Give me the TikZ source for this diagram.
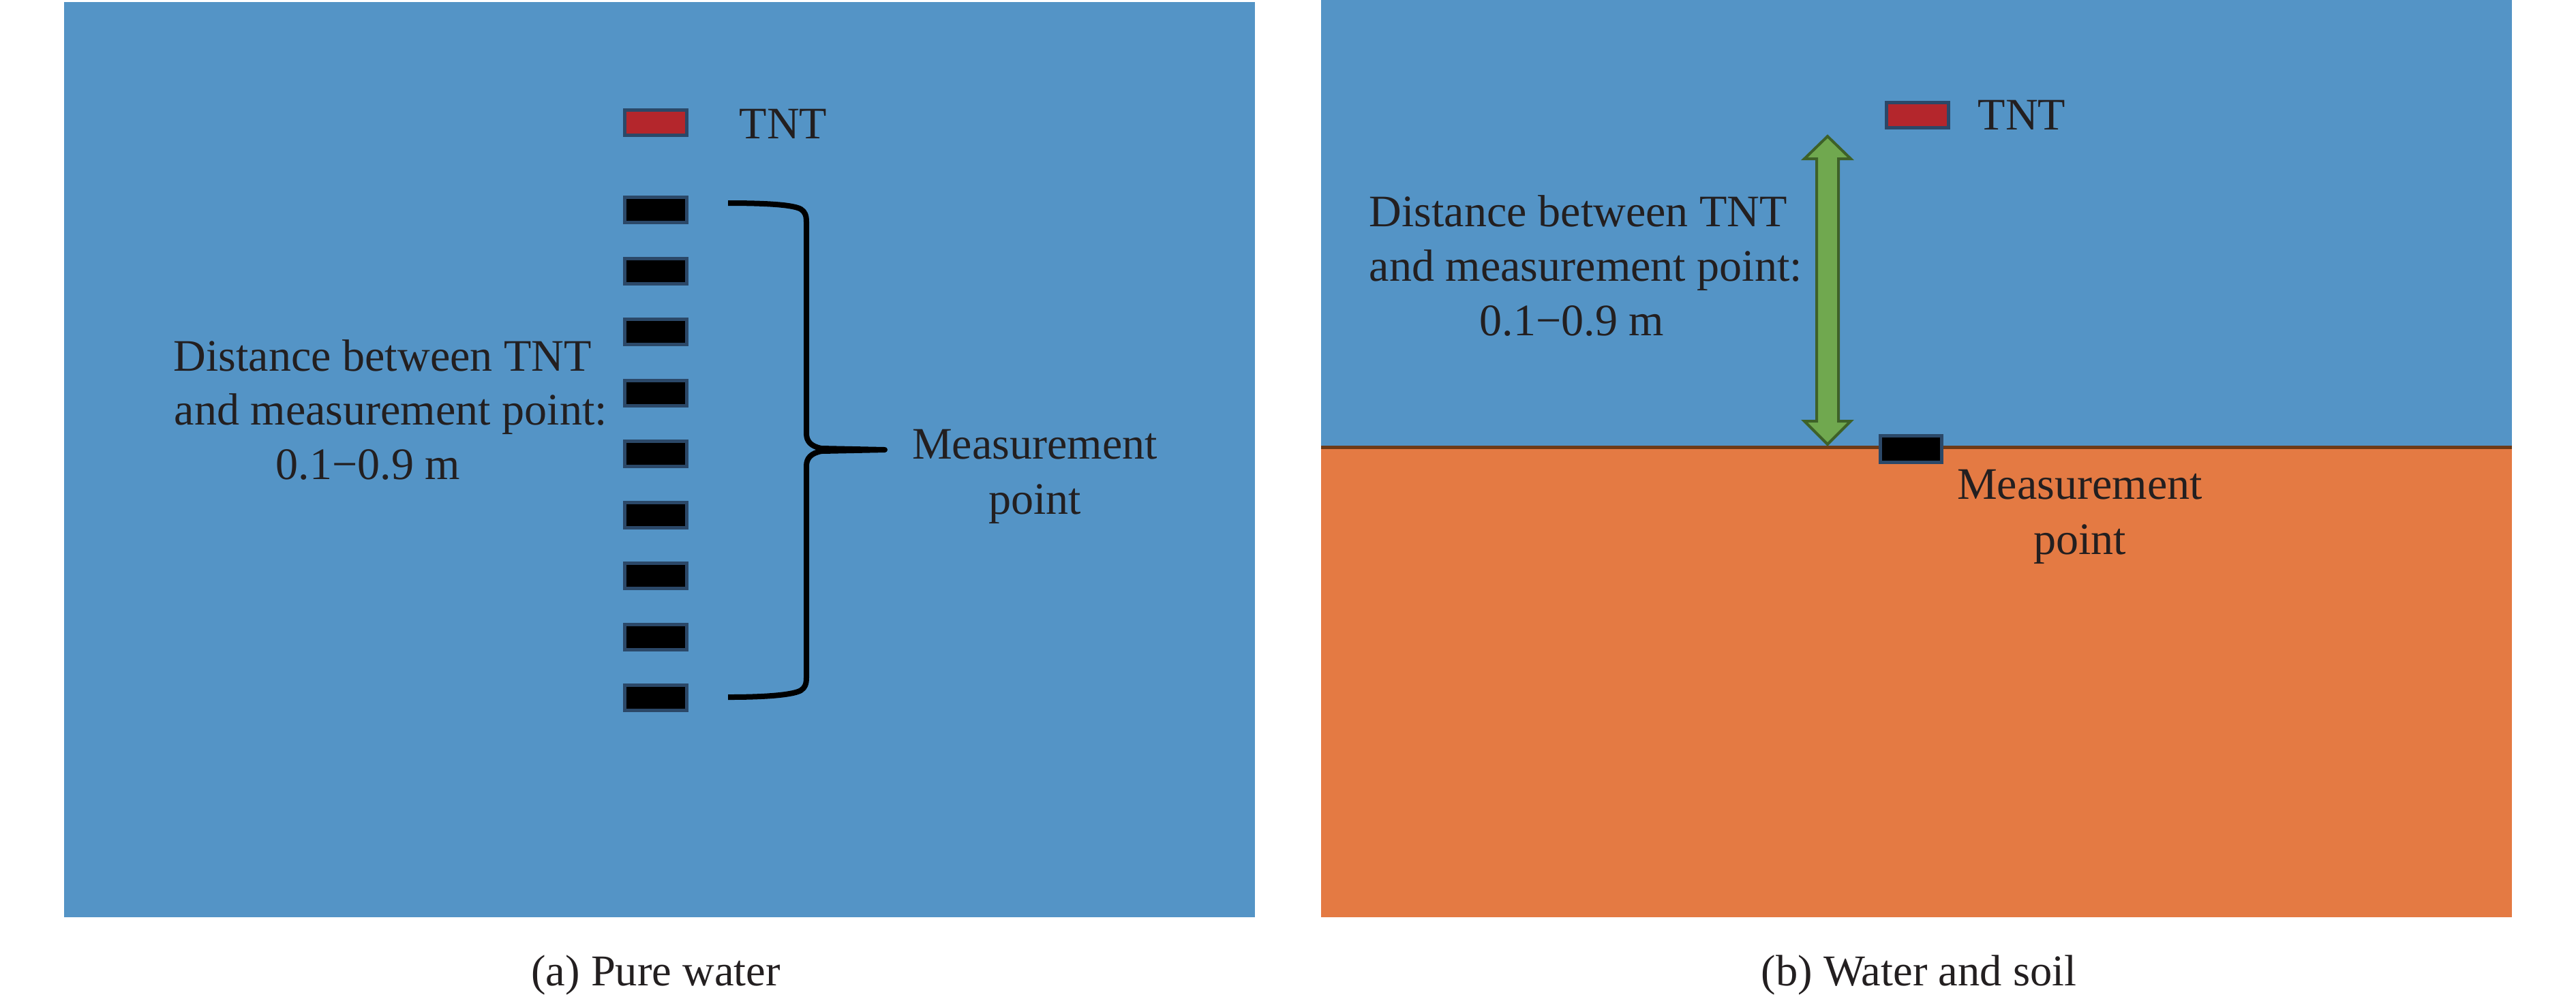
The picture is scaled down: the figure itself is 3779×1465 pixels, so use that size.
\documentclass[tikz,border=0pt]{standalone}
\usepackage{fontspec}
\setmainfont{Liberation Serif}
\definecolor{water}{HTML}{5494C6}
\definecolor{soil}{HTML}{E47A43}
\definecolor{ground}{HTML}{6E3A16}
\definecolor{edgeblue}{HTML}{2B4868}
\definecolor{tntred}{HTML}{B4262C}
\definecolor{arrowgreen}{HTML}{70A84F}
\definecolor{arrowedge}{HTML}{3E6128}
\definecolor{txtcol}{HTML}{231F20}
\begin{document}
\begin{tikzpicture}[x=0.01cm,y=-0.01cm,
  txt/.style={inner sep=0pt, text=txtcol, font=\fontsize{18.8pt}{22.6pt}\selectfont},
  captxt/.style={inner sep=0pt, text=txtcol, font=\fontsize{18.35pt}{22pt}\selectfont},
  gauge/.style={draw=edgeblue, fill=black, line width=0.05cm, inner sep=0pt,
                minimum width=0.91cm, minimum height=0.37cm},
  tntbox/.style={gauge, fill=tntred},
  bracepath/.style={draw=black, line width=0.08cm, line join=round, line cap=butt},
  dblarrow/.style={draw=arrowedge, fill=arrowgreen, line width=0.04cm, line join=miter}]
\useasboundingbox (0,0) rectangle (3779,1465);
\fill[white] (0,0) rectangle (3779,1465);

% ---------- panel (a) ----------
\fill[water] (94,3) rectangle (1841,1346);
\node[tntbox] (tntA) at (962,179.5) {};
\node[txt, anchor=base west] (tntAlbl) at (1084,203.5) {TNT};
\foreach \i in {0,...,8}{
  \node[gauge] (gA\i) at (962,{308+89.5*\i}) {};
}
\draw[bracepath] (1068,298) .. controls (1130,298) and (1165,301) .. (1175,307)
  .. controls (1181,311) and (1183,316) .. (1183,326) -- (1183,636)
  .. controls (1183,648) and (1190,655) .. (1205,658) -- (1298,660)
  -- (1205,662) .. controls (1190,665) and (1183,672) .. (1183,684)
  -- (1183,994) .. controls (1183,1004) and (1181,1009) .. (1175,1013)
  .. controls (1165,1019) and (1130,1023) .. (1068,1023);
\node[txt, anchor=base] (mpA1) at (1518,673.6) {Measurement};
\node[txt, anchor=base] (mpA2) at (1518,754) {point};
\node[txt, anchor=base west] (dA1) at (254,544) {Distance between TNT};
\node[txt, anchor=base west] (dA2) at (255,623) {and measurement point:};
\node[txt, anchor=base west] (dA3) at (404,703) {0.1−0.9 m};
\node[captxt, anchor=base] (capA) at (962,1446) {(a) Pure water};

% ---------- panel (b) ----------
\fill[water] (1938,0) rectangle (3685,657);
\fill[soil] (1938,657) rectangle (3685,1346);
\draw[ground, line width=0.05cm] (1938,656.5) -- (3685,656.5);
\node[tntbox] (tntB) at (2813,169) {};
\node[txt, anchor=base west] (tntBlbl) at (2901,190) {TNT};
\path[dblarrow] (2681,200) -- (2715,233) -- (2697,233) -- (2697,618) -- (2715,618)
  -- (2681,652) -- (2647,618) -- (2665,618) -- (2665,233) -- (2647,233) -- cycle;
\node[gauge, minimum width=0.90cm, minimum height=0.39cm] (gB) at (2803.5,659) {};
\node[txt, anchor=base] (mpB1) at (3051,732) {Measurement};
\node[txt, anchor=base] (mpB2) at (3051,813) {point};
\node[txt, anchor=base west] (dB1) at (2008,332) {Distance between TNT};
\node[txt, anchor=base west] (dB2) at (2008,412) {and measurement point:};
\node[txt, anchor=base west] (dB3) at (2170,492) {0.1−0.9 m};
\node[captxt, anchor=base] (capB) at (2815,1446) {(b) Water and soil};
\end{tikzpicture}
\end{document}
